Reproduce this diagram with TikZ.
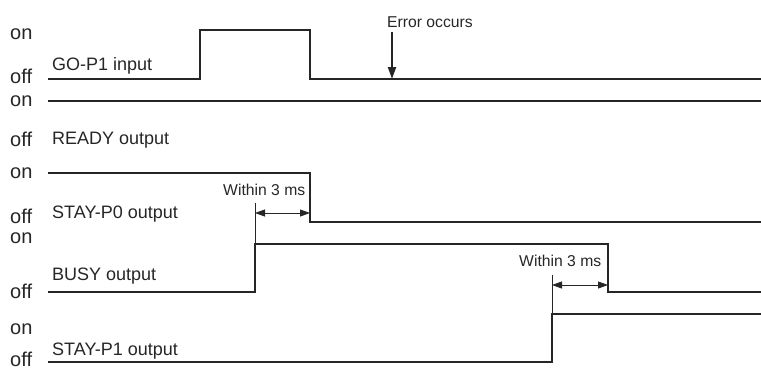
\documentclass[tikz,border=0pt]{standalone}
\usepackage{fontspec}
\setmainfont{Liberation Sans}
\usetikzlibrary{arrows.meta}
\begin{document}
\begin{tikzpicture}[x=1pt,y=-1pt,
  wave/.style={line width=2.6pt,line join=miter,black!85},
  thinl/.style={line width=0.8pt,black!85},
  lvl/.style={anchor=base west,inner sep=0pt,font=\fontsize{20}{24}\selectfont,black!85},
  sig/.style={anchor=base west,inner sep=0pt,font=\fontsize{18}{21}\selectfont,black!85},
  note/.style={anchor=base west,inner sep=0pt,font=\fontsize{15.7}{18}\selectfont,black!85},
  dimarrow/.style={thinl,{Triangle[length=10pt,width=7pt]}-{Triangle[length=10pt,width=7pt]}},
  errarrow/.style={line width=2pt,black!85,-{Triangle[length=12pt,width=8pt]}}]
\useasboundingbox (0,0) rectangle (761,370);
% level labels
\node[lvl] (on1) at (10,39) {on};
\node[lvl] (off1) at (10,83) {off};
\node[lvl] (on2) at (10,106) {on};
\node[lvl] (off2) at (10,146) {off};
\node[lvl] (on3) at (10,178) {on};
\node[lvl] (off3) at (10,223) {off};
\node[lvl] (on4) at (10,243) {on};
\node[lvl] (off4) at (10,298) {off};
\node[lvl] (on5) at (10,334) {on};
\node[lvl] (off5) at (10,366) {off};
% signal labels
\node[sig] (go) at (52,70) {GO-P1 input};
\node[sig] (ready) at (52,144) {READY output};
\node[sig] (stay0) at (52,218) {STAY-P0 output};
\node[sig] (busy) at (52,280) {BUSY output};
\node[sig] (stay1) at (52,355) {STAY-P1 output};
% waveforms
\draw[wave] (48,79) -- (200,79) -- (200,30) -- (310,30) -- (310,79) -- (761,79);
\draw[wave] (48,101) -- (761,101);
\draw[wave] (48,173) -- (310,173) -- (310,222) -- (761,222);
\draw[wave] (48,292) -- (255,292) -- (255,244) -- (608,244) -- (608,292) -- (761,292);
\draw[wave] (48,362) -- (552,362) -- (552,314) -- (761,314);
% error marker
\node[note] (err) at (387,27) {Error occurs};
\coordinate (errtop) at (392,32);
\coordinate (errtip) at (392,79);
\draw[errarrow] (errtop) -- (errtip);
% timing 1
\node[note] (w1) at (223,195) {Within 3 ms};
\coordinate (t1a) at (255,203);
\coordinate (t1b) at (255,244);
\coordinate (a1l) at (255,213);
\coordinate (a1r) at (310,213);
\draw[thinl] (t1a) -- (t1b);
\draw[dimarrow] (a1l) -- (a1r);
% timing 2
\node[note] (w2) at (519,266) {Within 3 ms};
\coordinate (t2a) at (552,275);
\coordinate (t2b) at (552,314);
\coordinate (a2l) at (552,285);
\coordinate (a2r) at (608,285);
\draw[thinl] (t2a) -- (t2b);
\draw[dimarrow] (a2l) -- (a2r);
\end{tikzpicture}
\end{document}
